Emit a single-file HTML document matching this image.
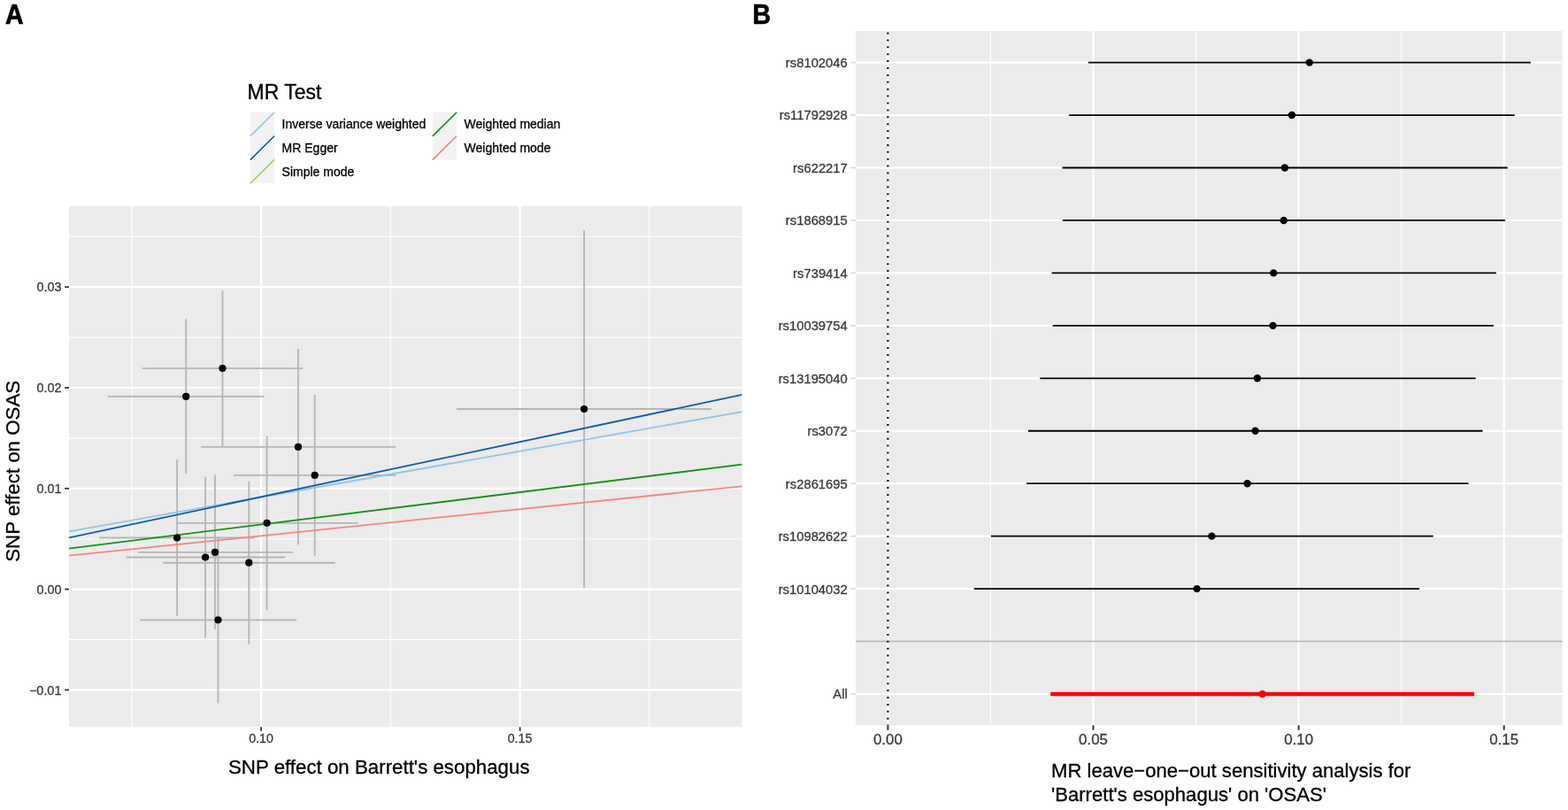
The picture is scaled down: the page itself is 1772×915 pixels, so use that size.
<!DOCTYPE html>
<html><head><meta charset="utf-8"><title>MR scatter and leave-one-out plots</title>
<style>
html,body{margin:0;padding:0;background:#fff;}
body{width:1772px;height:915px;overflow:hidden;}
svg{display:block;font-family:"Liberation Sans",Arial,Helvetica,sans-serif;}
</style></head>
<body>
<svg width="1772" height="915" viewBox="0 0 1772 915">
<rect x="0" y="0" width="1772" height="915" fill="#fff"/>
<rect x="78.0" y="233.0" width="760.60" height="588.30" fill="#EBEBEB"/>
<line x1="148.85" y1="233.00" x2="148.85" y2="821.30" stroke="#FFFFFF" stroke-width="1.1" />
<line x1="441.35" y1="233.00" x2="441.35" y2="821.30" stroke="#FFFFFF" stroke-width="1.1" />
<line x1="733.85" y1="233.00" x2="733.85" y2="821.30" stroke="#FFFFFF" stroke-width="1.1" />
<line x1="78.00" y1="267.30" x2="838.60" y2="267.30" stroke="#FFFFFF" stroke-width="1.1" />
<line x1="78.00" y1="381.10" x2="838.60" y2="381.10" stroke="#FFFFFF" stroke-width="1.1" />
<line x1="78.00" y1="494.90" x2="838.60" y2="494.90" stroke="#FFFFFF" stroke-width="1.1" />
<line x1="78.00" y1="608.70" x2="838.60" y2="608.70" stroke="#FFFFFF" stroke-width="1.1" />
<line x1="78.00" y1="722.50" x2="838.60" y2="722.50" stroke="#FFFFFF" stroke-width="1.1" />
<line x1="295.10" y1="233.00" x2="295.10" y2="821.30" stroke="#FFFFFF" stroke-width="2.2" />
<line x1="587.60" y1="233.00" x2="587.60" y2="821.30" stroke="#FFFFFF" stroke-width="2.2" />
<line x1="78.00" y1="324.20" x2="838.60" y2="324.20" stroke="#FFFFFF" stroke-width="2.2" />
<line x1="78.00" y1="438.00" x2="838.60" y2="438.00" stroke="#FFFFFF" stroke-width="2.2" />
<line x1="78.00" y1="551.80" x2="838.60" y2="551.80" stroke="#FFFFFF" stroke-width="2.2" />
<line x1="78.00" y1="665.60" x2="838.60" y2="665.60" stroke="#FFFFFF" stroke-width="2.2" />
<line x1="78.00" y1="779.40" x2="838.60" y2="779.40" stroke="#FFFFFF" stroke-width="2.2" />
<line x1="251.50" y1="328.20" x2="251.50" y2="504.60" stroke="#B6B6B6" stroke-width="1.85" />
<line x1="160.70" y1="416.10" x2="342.30" y2="416.10" stroke="#B6B6B6" stroke-width="1.85" />
<line x1="210.20" y1="360.30" x2="210.20" y2="535.40" stroke="#B6B6B6" stroke-width="1.85" />
<line x1="121.60" y1="447.90" x2="298.70" y2="447.90" stroke="#B6B6B6" stroke-width="1.85" />
<line x1="337.00" y1="394.10" x2="337.00" y2="615.30" stroke="#B6B6B6" stroke-width="1.85" />
<line x1="227.20" y1="504.90" x2="447.20" y2="504.90" stroke="#B6B6B6" stroke-width="1.85" />
<line x1="355.70" y1="446.20" x2="355.70" y2="627.90" stroke="#B6B6B6" stroke-width="1.85" />
<line x1="263.90" y1="536.90" x2="447.40" y2="536.90" stroke="#B6B6B6" stroke-width="1.85" />
<line x1="301.60" y1="493.10" x2="301.60" y2="689.20" stroke="#B6B6B6" stroke-width="1.85" />
<line x1="198.50" y1="590.80" x2="404.80" y2="590.80" stroke="#B6B6B6" stroke-width="1.85" />
<line x1="200.10" y1="519.00" x2="200.10" y2="695.70" stroke="#B6B6B6" stroke-width="1.85" />
<line x1="112.00" y1="607.50" x2="288.00" y2="607.50" stroke="#B6B6B6" stroke-width="1.85" />
<line x1="243.00" y1="536.50" x2="243.00" y2="711.00" stroke="#B6B6B6" stroke-width="1.85" />
<line x1="155.70" y1="623.90" x2="331.10" y2="623.90" stroke="#B6B6B6" stroke-width="1.85" />
<line x1="232.10" y1="538.50" x2="232.10" y2="720.30" stroke="#B6B6B6" stroke-width="1.85" />
<line x1="142.60" y1="629.50" x2="322.00" y2="629.50" stroke="#B6B6B6" stroke-width="1.85" />
<line x1="281.30" y1="543.60" x2="281.30" y2="727.90" stroke="#B6B6B6" stroke-width="1.85" />
<line x1="184.30" y1="635.70" x2="378.70" y2="635.70" stroke="#B6B6B6" stroke-width="1.85" />
<line x1="246.50" y1="606.20" x2="246.50" y2="794.40" stroke="#B6B6B6" stroke-width="1.85" />
<line x1="158.00" y1="700.30" x2="335.10" y2="700.30" stroke="#B6B6B6" stroke-width="1.85" />
<line x1="660.10" y1="260.20" x2="660.10" y2="664.20" stroke="#B6B6B6" stroke-width="1.85" />
<line x1="515.90" y1="462.00" x2="804.00" y2="462.00" stroke="#B6B6B6" stroke-width="1.85" />
<clipPath id="clipA"><rect x="78.0" y="233.0" width="760.60" height="588.30"/></clipPath>
<g clip-path="url(#clipA)">
<line x1="78.00" y1="600.30" x2="838.60" y2="465.10" stroke="#94C4E2" stroke-width="1.8" />
<line x1="78.00" y1="607.40" x2="838.60" y2="445.90" stroke="#0E5CA6" stroke-width="1.8" />
<line x1="78.00" y1="619.70" x2="838.60" y2="524.70" stroke="#1A901A" stroke-width="1.8" />
<line x1="78.00" y1="627.70" x2="838.60" y2="549.30" stroke="#F5857F" stroke-width="1.8" />
</g>
<circle cx="251.5" cy="416.1" r="4.1" fill="#000"/>
<circle cx="210.2" cy="447.9" r="4.1" fill="#000"/>
<circle cx="337.0" cy="504.9" r="4.1" fill="#000"/>
<circle cx="355.7" cy="536.9" r="4.1" fill="#000"/>
<circle cx="301.6" cy="590.8" r="4.1" fill="#000"/>
<circle cx="200.1" cy="607.5" r="4.1" fill="#000"/>
<circle cx="243.0" cy="623.9" r="4.1" fill="#000"/>
<circle cx="232.1" cy="629.5" r="4.1" fill="#000"/>
<circle cx="281.3" cy="635.7" r="4.1" fill="#000"/>
<circle cx="246.5" cy="700.3" r="4.1" fill="#000"/>
<circle cx="660.1" cy="462.0" r="4.1" fill="#000"/>
<line x1="295.10" y1="821.30" x2="295.10" y2="825.80" stroke="#333333" stroke-width="1.8" />
<text x="295.10" y="839.40" font-size="14.3" fill="#3A3A3A" text-anchor="middle"  stroke="#3A3A3A" stroke-width="0.3">0.10</text>
<line x1="587.60" y1="821.30" x2="587.60" y2="825.80" stroke="#333333" stroke-width="1.8" />
<text x="587.60" y="839.40" font-size="14.3" fill="#3A3A3A" text-anchor="middle"  stroke="#3A3A3A" stroke-width="0.3">0.15</text>
<line x1="73.20" y1="324.20" x2="78.00" y2="324.20" stroke="#333333" stroke-width="1.8" />
<text x="69.40" y="329.30" font-size="14.4" fill="#3A3A3A" text-anchor="end"  stroke="#3A3A3A" stroke-width="0.3">0.03</text>
<line x1="73.20" y1="438.00" x2="78.00" y2="438.00" stroke="#333333" stroke-width="1.8" />
<text x="69.40" y="443.10" font-size="14.4" fill="#3A3A3A" text-anchor="end"  stroke="#3A3A3A" stroke-width="0.3">0.02</text>
<line x1="73.20" y1="551.80" x2="78.00" y2="551.80" stroke="#333333" stroke-width="1.8" />
<text x="69.40" y="556.90" font-size="14.4" fill="#3A3A3A" text-anchor="end"  stroke="#3A3A3A" stroke-width="0.3">0.01</text>
<line x1="73.20" y1="665.60" x2="78.00" y2="665.60" stroke="#333333" stroke-width="1.8" />
<text x="69.40" y="670.70" font-size="14.4" fill="#3A3A3A" text-anchor="end"  stroke="#3A3A3A" stroke-width="0.3">0.00</text>
<line x1="73.20" y1="779.40" x2="78.00" y2="779.40" stroke="#333333" stroke-width="1.8" />
<text x="69.40" y="784.50" font-size="14.4" fill="#3A3A3A" text-anchor="end"  stroke="#3A3A3A" stroke-width="0.3">&#8722;0.01</text>
<text x="258.00" y="874.00" font-size="22.3" fill="#000" text-anchor="start"  stroke="#000" stroke-width="0.3">SNP effect on Barrett's esophagus</text>
<text transform="translate(22.3,532.3) rotate(-90)" font-size="22.3" fill="#000" stroke="#000" stroke-width="0.3" text-anchor="middle">SNP effect on OSAS</text>
<text x="279.50" y="111.70" font-size="23" fill="#000" text-anchor="start"  stroke="#000" stroke-width="0.3">MR Test</text>
<rect x="283.0" y="127.00" width="27.0" height="26.7" fill="#F2F2F2"/>
<rect x="283.0" y="153.70" width="27.0" height="26.7" fill="#F2F2F2"/>
<rect x="283.0" y="180.40" width="27.0" height="26.7" fill="#F2F2F2"/>
<rect x="489.0" y="127.00" width="27.0" height="26.7" fill="#F2F2F2"/>
<rect x="489.0" y="153.70" width="27.0" height="26.7" fill="#F2F2F2"/>
<line x1="283.30" y1="153.40" x2="309.70" y2="127.30" stroke="#94C4E2" stroke-width="1.6" stroke-linecap="round"/>
<text x="318.60" y="145.20" font-size="14.0" fill="#000" text-anchor="start"  stroke="#000" stroke-width="0.3">Inverse variance weighted</text>
<line x1="283.30" y1="180.10" x2="309.70" y2="154.00" stroke="#0E5CA6" stroke-width="1.6" stroke-linecap="round"/>
<text x="318.60" y="171.90" font-size="14.0" fill="#000" text-anchor="start"  stroke="#000" stroke-width="0.3">MR Egger</text>
<line x1="283.30" y1="206.80" x2="309.70" y2="180.70" stroke="#94CC5C" stroke-width="1.6" stroke-linecap="round"/>
<text x="318.60" y="198.60" font-size="14.0" fill="#000" text-anchor="start"  stroke="#000" stroke-width="0.3">Simple mode</text>
<line x1="489.30" y1="153.40" x2="515.70" y2="127.30" stroke="#1A901A" stroke-width="1.6" stroke-linecap="round"/>
<text x="524.60" y="145.20" font-size="14.0" fill="#000" text-anchor="start"  stroke="#000" stroke-width="0.3">Weighted median</text>
<line x1="489.30" y1="180.10" x2="515.70" y2="154.00" stroke="#F5857F" stroke-width="1.6" stroke-linecap="round"/>
<text x="524.60" y="171.90" font-size="14.0" fill="#000" text-anchor="start"  stroke="#000" stroke-width="0.3">Weighted mode</text>
<rect x="967.0" y="35.0" width="798.60" height="784.30" fill="#EBEBEB"/>
<line x1="1119.45" y1="35.00" x2="1119.45" y2="819.30" stroke="#FFFFFF" stroke-width="1.1" />
<line x1="1351.55" y1="35.00" x2="1351.55" y2="819.30" stroke="#FFFFFF" stroke-width="1.1" />
<line x1="1583.65" y1="35.00" x2="1583.65" y2="819.30" stroke="#FFFFFF" stroke-width="1.1" />
<line x1="967.00" y1="70.60" x2="1765.60" y2="70.60" stroke="#FFFFFF" stroke-width="2.2" />
<line x1="967.00" y1="130.05" x2="1765.60" y2="130.05" stroke="#FFFFFF" stroke-width="2.2" />
<line x1="967.00" y1="189.50" x2="1765.60" y2="189.50" stroke="#FFFFFF" stroke-width="2.2" />
<line x1="967.00" y1="248.95" x2="1765.60" y2="248.95" stroke="#FFFFFF" stroke-width="2.2" />
<line x1="967.00" y1="308.40" x2="1765.60" y2="308.40" stroke="#FFFFFF" stroke-width="2.2" />
<line x1="967.00" y1="367.85" x2="1765.60" y2="367.85" stroke="#FFFFFF" stroke-width="2.2" />
<line x1="967.00" y1="427.30" x2="1765.60" y2="427.30" stroke="#FFFFFF" stroke-width="2.2" />
<line x1="967.00" y1="486.75" x2="1765.60" y2="486.75" stroke="#FFFFFF" stroke-width="2.2" />
<line x1="967.00" y1="546.20" x2="1765.60" y2="546.20" stroke="#FFFFFF" stroke-width="2.2" />
<line x1="967.00" y1="605.65" x2="1765.60" y2="605.65" stroke="#FFFFFF" stroke-width="2.2" />
<line x1="967.00" y1="665.10" x2="1765.60" y2="665.10" stroke="#FFFFFF" stroke-width="2.2" />
<line x1="967.00" y1="784.00" x2="1765.60" y2="784.00" stroke="#FFFFFF" stroke-width="2.2" />
<line x1="1003.40" y1="35.00" x2="1003.40" y2="819.30" stroke="#FFFFFF" stroke-width="2.2" />
<line x1="1235.50" y1="35.00" x2="1235.50" y2="819.30" stroke="#FFFFFF" stroke-width="2.2" />
<line x1="1467.60" y1="35.00" x2="1467.60" y2="819.30" stroke="#FFFFFF" stroke-width="2.2" />
<line x1="1699.70" y1="35.00" x2="1699.70" y2="819.30" stroke="#FFFFFF" stroke-width="2.2" />
<line x1="967.00" y1="724.55" x2="1765.60" y2="724.55" stroke="#B3B3B3" stroke-width="1.6" />
<line x1="1003.40" y1="36.50" x2="1003.40" y2="819.30" stroke="#000" stroke-width="2.1" stroke-dasharray="2 5.9"/>
<line x1="1230.00" y1="70.60" x2="1729.90" y2="70.60" stroke="#000" stroke-width="1.8" />
<circle cx="1479.8" cy="70.60" r="4.2" fill="#000"/>
<line x1="1208.10" y1="130.05" x2="1711.70" y2="130.05" stroke="#000" stroke-width="1.8" />
<circle cx="1459.9" cy="130.05" r="4.2" fill="#000"/>
<line x1="1200.50" y1="189.50" x2="1703.70" y2="189.50" stroke="#000" stroke-width="1.8" />
<circle cx="1451.9" cy="189.50" r="4.2" fill="#000"/>
<line x1="1200.90" y1="248.95" x2="1701.10" y2="248.95" stroke="#000" stroke-width="1.8" />
<circle cx="1450.8" cy="248.95" r="4.2" fill="#000"/>
<line x1="1188.60" y1="308.40" x2="1690.80" y2="308.40" stroke="#000" stroke-width="1.8" />
<circle cx="1439.3" cy="308.40" r="4.2" fill="#000"/>
<line x1="1189.70" y1="367.85" x2="1688.00" y2="367.85" stroke="#000" stroke-width="1.8" />
<circle cx="1438.5" cy="367.85" r="4.2" fill="#000"/>
<line x1="1175.30" y1="427.30" x2="1667.70" y2="427.30" stroke="#000" stroke-width="1.8" />
<circle cx="1420.9" cy="427.30" r="4.2" fill="#000"/>
<line x1="1162.00" y1="486.75" x2="1675.50" y2="486.75" stroke="#000" stroke-width="1.8" />
<circle cx="1418.6" cy="486.75" r="4.2" fill="#000"/>
<line x1="1160.10" y1="546.20" x2="1659.50" y2="546.20" stroke="#000" stroke-width="1.8" />
<circle cx="1409.6" cy="546.20" r="4.2" fill="#000"/>
<line x1="1119.80" y1="605.65" x2="1619.70" y2="605.65" stroke="#000" stroke-width="1.8" />
<circle cx="1369.4" cy="605.65" r="4.2" fill="#000"/>
<line x1="1100.70" y1="665.10" x2="1604.10" y2="665.10" stroke="#000" stroke-width="1.8" />
<circle cx="1352.6" cy="665.10" r="4.2" fill="#000"/>
<line x1="1187.20" y1="784.00" x2="1666.10" y2="784.00" stroke="#FF0000" stroke-width="4.3" />
<circle cx="1426.7" cy="784.00" r="4.3" fill="#FF0000"/>
<line x1="961.50" y1="70.60" x2="967.00" y2="70.60" stroke="#D6D6D6" stroke-width="1.6" />
<text x="957.80" y="76.00" font-size="14.8" fill="#3A3A3A" text-anchor="end"  stroke="#3A3A3A" stroke-width="0.3">rs8102046</text>
<line x1="961.50" y1="130.05" x2="967.00" y2="130.05" stroke="#D6D6D6" stroke-width="1.6" />
<text x="957.80" y="135.45" font-size="14.8" fill="#3A3A3A" text-anchor="end"  stroke="#3A3A3A" stroke-width="0.3">rs11792928</text>
<line x1="961.50" y1="189.50" x2="967.00" y2="189.50" stroke="#D6D6D6" stroke-width="1.6" />
<text x="957.80" y="194.90" font-size="14.8" fill="#3A3A3A" text-anchor="end"  stroke="#3A3A3A" stroke-width="0.3">rs622217</text>
<line x1="961.50" y1="248.95" x2="967.00" y2="248.95" stroke="#D6D6D6" stroke-width="1.6" />
<text x="957.80" y="254.35" font-size="14.8" fill="#3A3A3A" text-anchor="end"  stroke="#3A3A3A" stroke-width="0.3">rs1868915</text>
<line x1="961.50" y1="308.40" x2="967.00" y2="308.40" stroke="#D6D6D6" stroke-width="1.6" />
<text x="957.80" y="313.80" font-size="14.8" fill="#3A3A3A" text-anchor="end"  stroke="#3A3A3A" stroke-width="0.3">rs739414</text>
<line x1="961.50" y1="367.85" x2="967.00" y2="367.85" stroke="#D6D6D6" stroke-width="1.6" />
<text x="957.80" y="373.25" font-size="14.8" fill="#3A3A3A" text-anchor="end"  stroke="#3A3A3A" stroke-width="0.3">rs10039754</text>
<line x1="961.50" y1="427.30" x2="967.00" y2="427.30" stroke="#D6D6D6" stroke-width="1.6" />
<text x="957.80" y="432.70" font-size="14.8" fill="#3A3A3A" text-anchor="end"  stroke="#3A3A3A" stroke-width="0.3">rs13195040</text>
<line x1="961.50" y1="486.75" x2="967.00" y2="486.75" stroke="#D6D6D6" stroke-width="1.6" />
<text x="957.80" y="492.15" font-size="14.8" fill="#3A3A3A" text-anchor="end"  stroke="#3A3A3A" stroke-width="0.3">rs3072</text>
<line x1="961.50" y1="546.20" x2="967.00" y2="546.20" stroke="#D6D6D6" stroke-width="1.6" />
<text x="957.80" y="551.60" font-size="14.8" fill="#3A3A3A" text-anchor="end"  stroke="#3A3A3A" stroke-width="0.3">rs2861695</text>
<line x1="961.50" y1="605.65" x2="967.00" y2="605.65" stroke="#D6D6D6" stroke-width="1.6" />
<text x="957.80" y="611.05" font-size="14.8" fill="#3A3A3A" text-anchor="end"  stroke="#3A3A3A" stroke-width="0.3">rs10982622</text>
<line x1="961.50" y1="665.10" x2="967.00" y2="665.10" stroke="#D6D6D6" stroke-width="1.6" />
<text x="957.80" y="670.50" font-size="14.8" fill="#3A3A3A" text-anchor="end"  stroke="#3A3A3A" stroke-width="0.3">rs10104032</text>
<line x1="961.50" y1="784.00" x2="967.00" y2="784.00" stroke="#D6D6D6" stroke-width="1.6" />
<text x="957.80" y="789.40" font-size="14.8" fill="#3A3A3A" text-anchor="end"  stroke="#3A3A3A" stroke-width="0.3">All</text>
<line x1="1003.40" y1="819.30" x2="1003.40" y2="824.70" stroke="#333333" stroke-width="2.0" />
<text x="1003.40" y="841.00" font-size="16.9" fill="#3A3A3A" text-anchor="middle"  stroke="#3A3A3A" stroke-width="0.3">0.00</text>
<line x1="1235.50" y1="819.30" x2="1235.50" y2="824.70" stroke="#333333" stroke-width="2.0" />
<text x="1235.50" y="841.00" font-size="16.9" fill="#3A3A3A" text-anchor="middle"  stroke="#3A3A3A" stroke-width="0.3">0.05</text>
<line x1="1467.60" y1="819.30" x2="1467.60" y2="824.70" stroke="#333333" stroke-width="2.0" />
<text x="1467.60" y="841.00" font-size="16.9" fill="#3A3A3A" text-anchor="middle"  stroke="#3A3A3A" stroke-width="0.3">0.10</text>
<line x1="1699.70" y1="819.30" x2="1699.70" y2="824.70" stroke="#333333" stroke-width="2.0" />
<text x="1699.70" y="841.00" font-size="16.9" fill="#3A3A3A" text-anchor="middle"  stroke="#3A3A3A" stroke-width="0.3">0.15</text>
<text x="1188.00" y="877.90" font-size="22.1" fill="#000" text-anchor="start"  stroke="#000" stroke-width="0.3">MR leave&#8722;one&#8722;out sensitivity analysis for</text>
<text x="1188.00" y="904.60" font-size="22.1" fill="#000" text-anchor="start"  stroke="#000" stroke-width="0.3">'Barrett's esophagus' on 'OSAS'</text>
<text transform="translate(5.95,26.95) scale(0.93,1)" font-size="30.6" font-weight="bold" fill="#000" stroke="#000" stroke-width="0.7">A</text>
<text transform="translate(850.2,27.2) scale(0.95,1)" font-size="30.5" font-weight="bold" fill="#000" stroke="#000" stroke-width="0.5">B</text>
</svg>
</body></html>
